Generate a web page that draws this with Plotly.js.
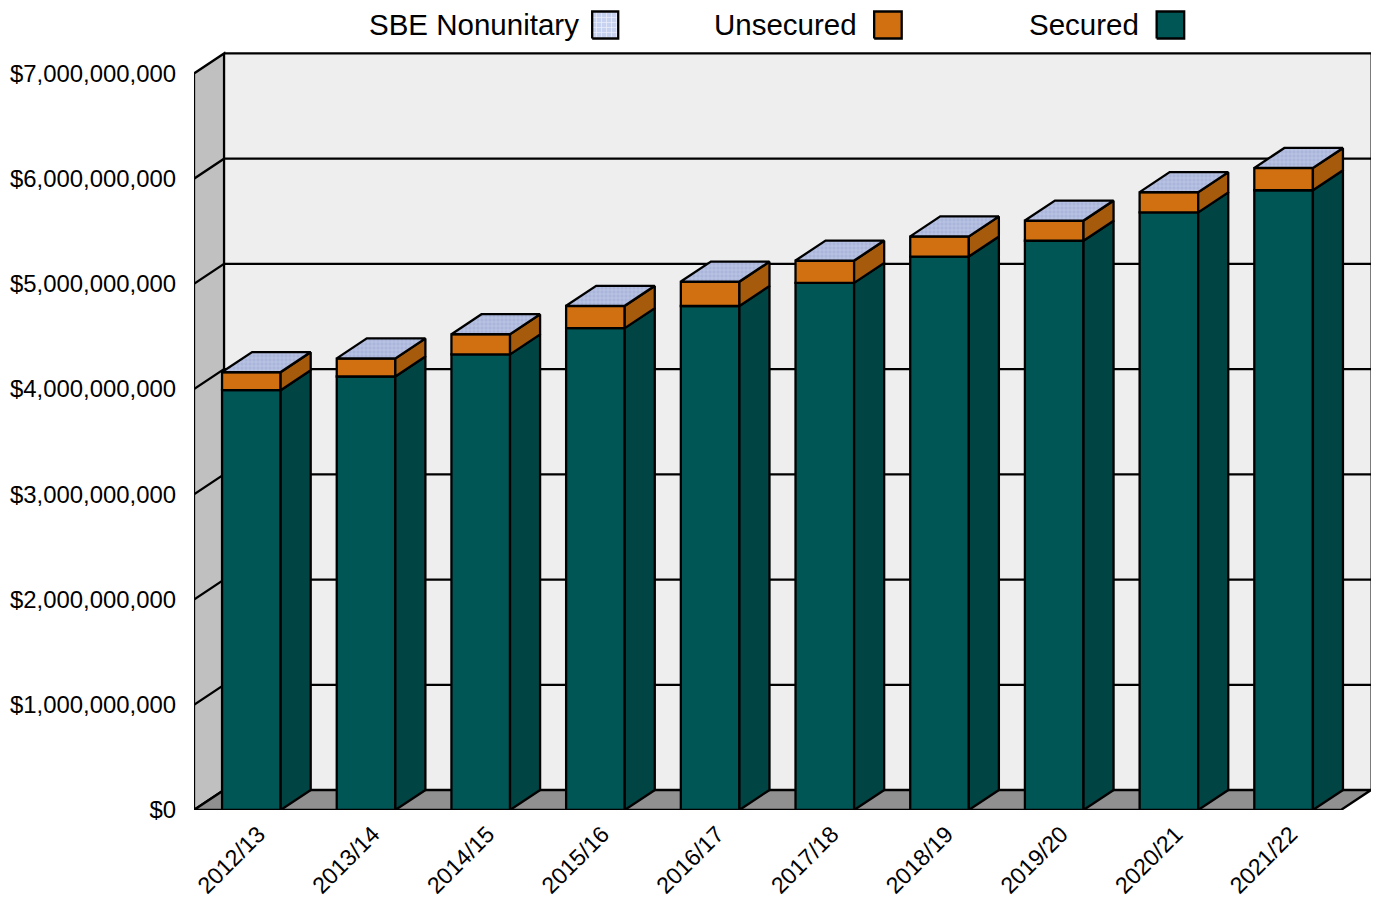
<!DOCTYPE html>
<html>
<head>
<meta charset="utf-8">
<script src="https://cdn.plot.ly/plotly-3.0.1.min.js"></script>
<style>html,body{margin:0;padding:0;background:#fff;overflow:hidden}#chart{width:1376px;height:900px}</style>
</head>
<body>
<div id="chart"></div>
<script>
// ---- data ----
var categories = ["2012/13","2013/14","2014/15","2015/16","2016/17","2017/18","2018/19","2019/20","2020/21","2021/22"];
var secured   = [3.99e9,4.12e9,4.33e9,4.58e9,4.79e9,5.01e9,5.26e9,5.41e9,5.68e9,5.89e9];
var unsecured = [0.17e9,0.17e9,0.19e9,0.21e9,0.23e9,0.21e9,0.19e9,0.19e9,0.19e9,0.21e9];
var nonunitary= [2e6,2e6,2e6,2e6,2e6,2e6,2e6,2e6,2e6,2e6];
var yTickVals = [0,1e9,2e9,3e9,4e9,5e9,6e9,7e9];
var yTickText = ["$0","$1,000,000,000","$2,000,000,000","$3,000,000,000","$4,000,000,000","$5,000,000,000","$6,000,000,000","$7,000,000,000"];
var legendNames = ["SBE Nonunitary","Unsecured","Secured"];

// ---- layout geometry ----
var W = 1376, H = 900;
var plotL = 194, plotR = 1371, plotB = 810.5;
var pxPerCat = 114.5, pxPerUnit = 737 / 7e9;
var depthX = 30 / pxPerCat, depthY = 20 / pxPerUnit;
var barW = 58.5 / pxPerCat;
var xMin = -0.5, xFront = 9.5, xMax = xFront + depthX;
var yMax = plotB / pxPerUnit;
var FONT = '"Liberation Sans", Arial, sans-serif';
var xOfPx = function (p) { return xMin + (p - plotL) / pxPerCat; };
var yOfPx = function (p) { return (plotB - p) / pxPerUnit; };

var C = {sec:'#005555', secSide:'#004444', uns:'#d07010', unsSide:'#a65a0c',
         top:'#a9b5da', swatch:'#c6d2f0', wall:'#eeeeee', left:'#c0c0c0', floor:'#909090'};

var xs = categories.map(function (_, i) { return i; });
var baseU = secured;
var topU = secured.map(function (v, i) { return v + unsecured[i]; });
var topAll = topU.map(function (v, i) { return v + nonunitary[i]; });

function sideFace(lo, hi) {
  var x = [], y = [];
  xs.forEach(function (c, i) {
    var r = c + barW / 2;
    x.push(r, r + depthX, r + depthX, r, r, null);
    y.push(lo[i], lo[i] + depthY, hi[i] + depthY, hi[i], lo[i], null);
  });
  return {x: x, y: y};
}
function topFace(h) {
  var x = [], y = [];
  xs.forEach(function (c, i) {
    var l = c - barW / 2, r = c + barW / 2;
    x.push(l, r, r + depthX, l + depthX, l, null);
    y.push(h[i], h[i], h[i] + depthY, h[i] + depthY, h[i], null);
  });
  return {x: x, y: y};
}
var outline = {color: '#000', width: 2.3};

function bar(name, vals, base, col) {
  return {type: 'bar', name: name, x: xs, y: vals, base: base, width: barW,
          marker: {color: col, line: {color: '#000', width: 2.3}}, showlegend: false, hoverinfo: 'y'};
}
function poly(name, f, col, extra) {
  var t = {type: 'scatter', mode: 'lines', name: name, x: f.x, y: f.y, fill: 'toself', fillcolor: col,
           line: outline, showlegend: false, hoverinfo: 'skip', connectgaps: false};
  for (var k in extra) t[k] = extra[k];
  return t;
}
var zeros = secured.map(function () { return 0; });
function swatch(name, x0, x1, col, extra) {
  var a = xOfPx(x0), b = xOfPx(x1), t = yOfPx(11.5), l = yOfPx(38.5);
  return poly(name, {x: [a, b, b, a, a], y: [l, l, t, t, l]}, col, extra);
}
var patTop = {shape: '+', fgcolor: '#c4cde6', bgcolor: C.top, size: 4, solidity: 0.25, fillmode: 'replace'};
var patSw  = {shape: '+', fgcolor: '#eef2fc', bgcolor: C.swatch, size: 5, solidity: 0.25, fillmode: 'replace'};

var traces = [
  bar(legendNames[2], secured, zeros, C.sec),
  bar(legendNames[1], unsecured, baseU, C.uns),
  poly(legendNames[2] + ' side', sideFace(zeros, secured), C.secSide),
  poly(legendNames[1] + ' side', sideFace(baseU, topU), C.unsSide),
  poly(legendNames[0] + ' top', topFace(topAll), C.top, {fillpattern: patTop}),
  swatch(legendNames[0], 591.5, 617.5, C.swatch, {fillpattern: patSw}),
  swatch(legendNames[1], 873, 900.5, C.uns),
  swatch(legendNames[2], 1155, 1182.5, C.sec)
];

// ---- room: walls, floor, grid ----
function pathOf(pts) {
  return 'M' + pts.map(function (p) { return p[0] + ',' + p[1]; }).join('L') + 'Z';
}
var backL = xMin + depthX, topV = 7e9 + depthY;
var shapes = [
  {type: 'path', layer: 'below', xref: 'x', yref: 'y', fillcolor: C.wall, line: {width: 0},
   path: pathOf([[backL, depthY], [xMax, depthY], [xMax, topV], [backL, topV]])},
  {type: 'line', layer: 'below', xref: 'x', yref: 'y', x0: xMax, x1: xMax, y0: depthY, y1: topV, line: {color: '#555', width: 1.5}},
  {type: 'line', layer: 'below', xref: 'x', yref: 'y', x0: backL, x1: xMax, y0: topV, y1: topV, line: outline},
  {type: 'path', layer: 'below', xref: 'x', yref: 'y', fillcolor: C.left, line: outline,
   path: pathOf([[xMin, 0], [backL, depthY], [backL, topV], [xMin, 7e9]])},
  {type: 'path', layer: 'below', xref: 'x', yref: 'y', fillcolor: C.floor, line: outline,
   path: pathOf([[xMin, 0], [xFront, 0], [xMax, depthY], [backL, depthY]])}
];
yTickVals.slice(1, -1).forEach(function (v) {
  shapes.push({type: 'path', layer: 'below', xref: 'x', yref: 'y', line: outline,
    path: 'M' + xMin + ',' + v + 'L' + backL + ',' + (v + depthY) + 'L' + xMax + ',' + (v + depthY)});
});

// ---- legend text ----
function legendText(txt, rightPx) {
  return {text: txt, xref: 'x', yref: 'y', x: xOfPx(rightPx), y: yOfPx(24.5), xanchor: 'right', yanchor: 'middle',
          showarrow: false, font: {family: FONT, size: 29.5, color: '#000'}};
}
var annotations = [legendText(legendNames[0], 580), legendText(legendNames[1], 857.5), legendText(legendNames[2], 1139.5)];

var layout = {
  width: W, height: H, autosize: false,
  margin: {l: plotL, r: W - plotR, t: 0, b: H - plotB, pad: 0},
  paper_bgcolor: '#fff', plot_bgcolor: '#fff',
  barmode: 'overlay', showlegend: false,
  font: {family: FONT, color: '#000'},
  xaxis: {type: 'linear', range: [xMin, xMax], tickmode: 'array', tickvals: xs, ticktext: categories,
          tickangle: -45, showgrid: false, zeroline: false, showline: false, ticks: '',
          ticklabelstandoff: 5, ticklabelshift: 7, tickfont: {family: FONT, size: 23.2, color: '#000'}},
  yaxis: {type: 'linear', range: [0, yMax], tickmode: 'array', tickvals: yTickVals, ticktext: yTickText,
          showgrid: false, zeroline: false, showline: false, ticks: '',
          ticklabelstandoff: 17, tickfont: {family: FONT, size: 23.9, color: '#000'}},
  shapes: shapes, annotations: annotations
};
Plotly.newPlot('chart', traces, layout, {displayModeBar: false, staticPlot: true});
</script>
</body>
</html>
